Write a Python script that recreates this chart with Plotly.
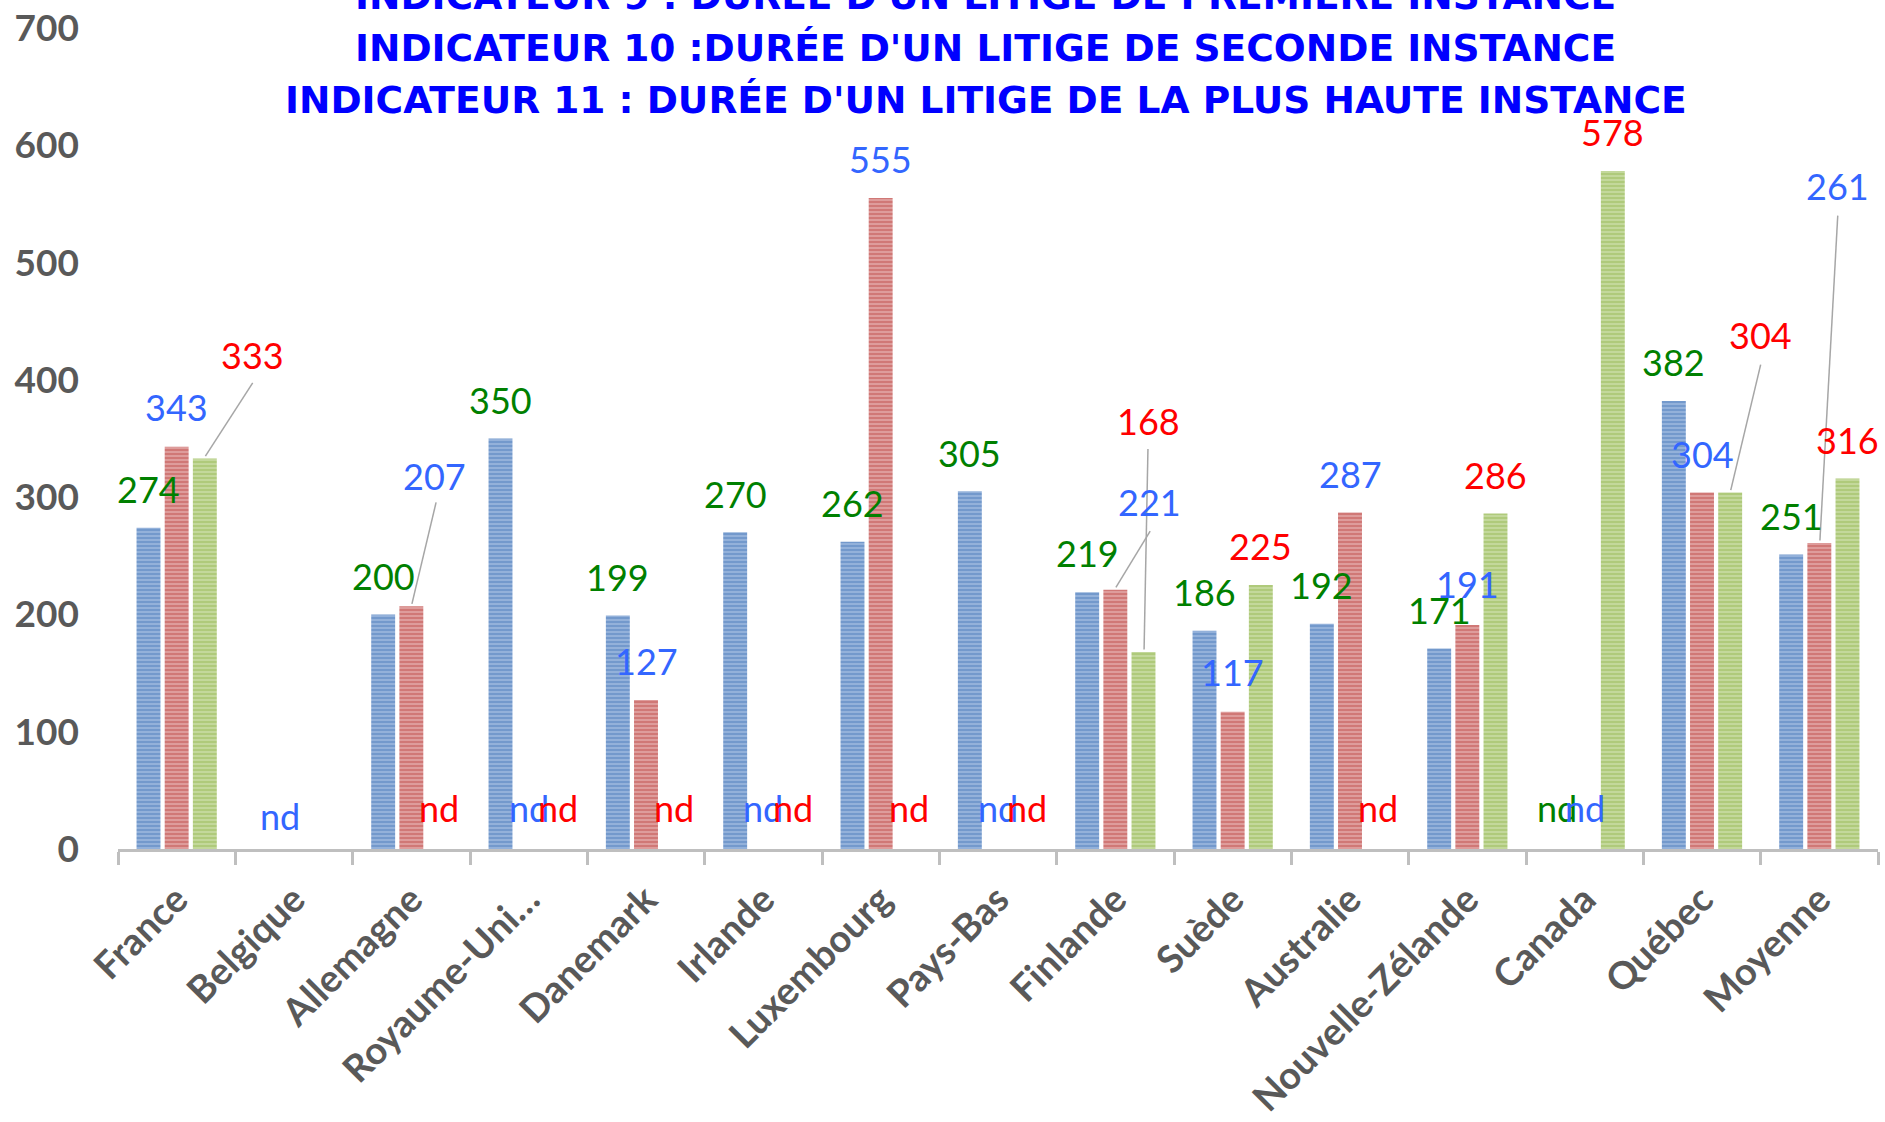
import plotly.graph_objects as go

# ---------------- data ----------------
categories = ["France", "Belgique", "Allemagne", "Royaume-Uni…", "Danemark", "Irlande",
              "Luxembourg", "Pays-Bas", "Finlande", "Suède", "Australie",
              "Nouvelle-Zélande", "Canada", "Québec", "Moyenne"]
premiere = [274, None, 200, 350, 199, 270, 262, 305, 219, 186, 192, 171, None, 382, 251]
seconde = [343, None, 207, None, 127, None, 555, None, 221, 117, 287, 191, None, 304, 261]
haute = [333, None, None, None, None, None, None, None, 168, 225, None, 286, 578, 304, 316]
y_ticks = [0, 100, 200, 300, 400, 500, 600, 700]
title_lines = ["INDICATEUR 9 : DURÉE D'UN LITIGE DE PREMIÈRE INSTANCE",
               "INDICATEUR 10 :DURÉE D'UN LITIGE DE SECONDE INSTANCE",
               "INDICATEUR 11 : DURÉE D'UN LITIGE DE LA PLUS HAUTE INSTANCE"]

# ---------------- label placement (offsets from slot / value) ----------------
slot = [-0.24, 0.0, 0.24]
lab_colors = ["#008000", "#3366ff", "#ff0000"]
series_vals = [premiere, seconde, haute]
# custom label positions: (series, cat) -> (dx from cat centre, y position, leader start or False)
custom = {
    (0, 0): (-0.24, 307, False),
    (1, 0): (0.0, 377, False),
    (2, 0): (0.65, 421, (0.648, 397.5)),
    (1, 2): (0.20, 318, (0.211, 295.5)),
    (1, 8): (0.29, 296, (0.297, 271)),
    (2, 8): (0.28, 365, (0.278, 341)),
    (1, 9): (0.0, 151, False),
    (1, 11): (0.0, 226, False),
    (0, 11): (-0.24, 204, False),
    (1, 13): (0.0, 337, False),
    (2, 13): (0.50, 438, (0.50, 413)),
    (1, 14): (0.156, 565, (0.157, 540)),
}
above = 33  # default distance of label centre above bar top (value units)
nd_positions = {  # (series, cat) -> (dx, y) for visible "nd" labels
    (1, 1): (-0.12, 28),
    (2, 2): (0.24, 35),
    (1, 3): (0.0, 35), (2, 3): (0.25, 35),
    (2, 4): (0.24, 35),
    (1, 5): (0.0, 35), (2, 5): (0.25, 35),
    (2, 6): (0.24, 35),
    (1, 7): (0.0, 35), (2, 7): (0.25, 35),
    (2, 10): (0.24, 35),
    (0, 12): (-0.235, 35), (1, 12): (0.0, 35),
}

fig = go.Figure()
bar_styles = [("#4a7dbb", "#93b1da"), ("#bf4b48", "#de9c9b"), ("#97b854", "#c3d89b")]
names = ["Première instance", "Seconde instance", "Plus haute instance"]
for vals, (fg, bg), nm in zip(series_vals, bar_styles, names):
    fig.add_trace(go.Bar(
        x=categories, y=vals, name=nm,
        marker=dict(color=bg, line=dict(width=0),
                    pattern=dict(shape="-", fgcolor=fg, bgcolor=bg, size=4, solidity=0.45)),
        hoverinfo="x+y",
    ))

annotations = []
shapes = []
for s, vals in enumerate(series_vals):
    for i, v in enumerate(vals):
        if v is None:
            if (s, i) in nd_positions:
                dx, yy = nd_positions[(s, i)]
                annotations.append(dict(x=i + dx, y=yy, xref="x", yref="y", text="nd",
                                        showarrow=False, font=dict(family="Lato", size=36, color=lab_colors[s])))
            continue
        if (s, i) in custom:
            dx, yy, lead = custom[(s, i)]
        else:
            dx, yy, lead = slot[s], v + above, False
        annotations.append(dict(x=i + dx, y=yy, xref="x", yref="y", text=str(v),
                                showarrow=False, font=dict(family="Lato", size=36, color=lab_colors[s])))
        if lead:
            shapes.append(dict(type="line", xref="x", yref="y",
                               x0=i + lead[0], y0=lead[1], x1=i + slot[s] + 0.005, y1=v + 2,
                               line=dict(color="#a6a6a6", width=1.5)))

title_y = [1.039, 0.9756, 0.9125]
for t, yy in zip(title_lines, title_y):
    annotations.append(dict(x=0.493, y=yy, xref="paper", yref="paper", text=t, showarrow=False,
                            xanchor="center", yanchor="middle",
                            font=dict(family="DejaVu Sans", size=37.6, color="#0000ff", weight="bold")))

fig.update_layout(
    width=1885, height=1122,
    margin=dict(l=118, r=7, t=28, b=273),
    paper_bgcolor="white", plot_bgcolor="white",
    barmode="group", bargap=0.28, bargroupgap=0.15,
    showlegend=False,
    annotations=annotations, shapes=shapes,
    xaxis=dict(type="category", tickson="boundaries", ticks="outside", ticklen=13, tickwidth=3,
               tickcolor="#bfbfbf", showline=True, linecolor="#bfbfbf", linewidth=3,
               tickangle=-45, showgrid=False, range=[-0.5, 14.5], automargin=False,
               ticklabelstandoff=10,
               tickfont=dict(family="Lato", size=38, color="#595959", weight="bold")),
    yaxis=dict(range=[0, 700], tickvals=y_ticks, showgrid=False, zeroline=False, showline=False,
               ticks="", ticklabelstandoff=38, automargin=False,
               tickfont=dict(family="Lato", size=37, color="#595959", weight="bold")),
)

fig.write_html("out.html", config={"displayModeBar": False},
               post_script="document.body.style.margin='0';document.body.style.overflow='hidden';")
